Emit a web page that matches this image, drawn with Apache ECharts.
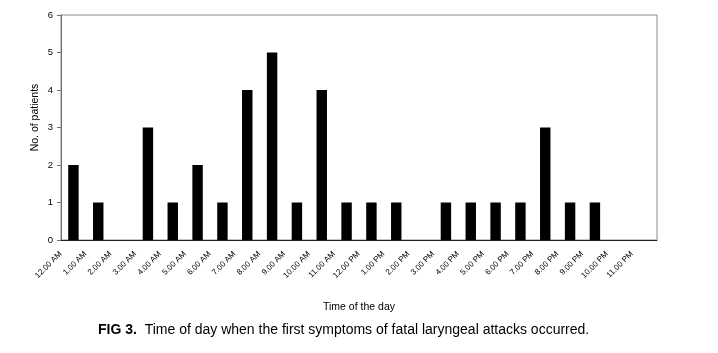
<!DOCTYPE html>
<html>
<head>
<meta charset="utf-8">
<script src="https://cdn.jsdelivr.net/npm/echarts@6/dist/echarts.min.js"></script>
<style>
html, body { margin: 0; padding: 0; background: #fff; }
#main { width: 718px; height: 353px; }
</style>
</head>
<body>
<div id="main"></div>
<script>
// hours of the day
var hours = ['12.00 AM', '1.00 AM', '2.00 AM', '3.00 AM', '4.00 AM', '5.00 AM', '6.00 AM', '7.00 AM',
    '8.00 AM', '9.00 AM', '10.00 AM', '11.00 AM', '12.00 PM', '1.00 PM', '2.00 PM', '3.00 PM',
    '4.00 PM', '5.00 PM', '6.00 PM', '7.00 PM', '8.00 PM', '9.00 PM', '10.00 PM', '11.00 PM'];
// patients per hour
var patients = [2, 1, 0, 3, 1, 2, 1, 4, 5, 1, 4, 1, 1, 1, 0, 1, 1, 1, 1, 3, 1, 1, 0, 0];
var yTicks = [0, 1, 2, 3, 4, 5, 6];

var chart = echarts.init(document.getElementById('main'));
var font = 'Liberation Sans, Arial, sans-serif';

var option = {
    animation: false,
    grid: {
        left: 61,
        right: 61,
        top: 15,
        bottom: 113,
        show: true,
        borderColor: '#8c8c8c',
        borderWidth: 1
    },
    xAxis: {
        type: 'category',
        data: hours,
        name: 'Time of the day',
        nameLocation: 'middle',
        nameGap: 62,
        nameMoveOverlap: false,
        nameTextStyle: { fontFamily: font, fontSize: 10.5, color: '#000' },
        axisLine: { lineStyle: { color: '#222', width: 1 } },
        axisTick: { alignWithLabel: false, length: 4, lineStyle: { color: '#222' } },
        axisLabel: {
            rotate: 45,
            interval: 0,
            margin: 0,
            padding: [0, 18, 0, 0],
            fontFamily: font,
            fontSize: 8,
            color: '#000'
        }
    },
    yAxis: {
        type: 'value',
        min: yTicks[0],
        max: yTicks[yTicks.length - 1],
        interval: 1,
        name: 'No. of patients',
        nameLocation: 'middle',
        nameGap: 20,
        nameMoveOverlap: false,
        nameTextStyle: { fontFamily: font, fontSize: 10.5, color: '#000', padding: [0, 0, 0, 20] },
        splitLine: { show: false },
        axisLine: { show: true, lineStyle: { color: '#707070' } },
        axisTick: { show: true, length: 4, lineStyle: { color: '#707070' } },
        axisLabel: { fontFamily: font, fontSize: 9.5, color: '#000', margin: 8 }
    },
    series: [
        {
            type: 'bar',
            data: patients,
            barWidth: '42%',
            itemStyle: { color: '#000' }
        }
    ],
    graphic: [
        {
            type: 'text',
            left: 98,
            top: 323,
            style: {
                rich: {
                    b: { fontFamily: font, fontWeight: 'bold', fontSize: 14, fill: '#000' },
                    n: { fontFamily: font, fontSize: 14, fill: '#000' }
                },
                text: '{b|FIG 3.}{n|  Time of day when the first symptoms of fatal laryngeal attacks occurred.}'
            }
        }
    ]
};
chart.setOption(option);
</script>
</body>
</html>
